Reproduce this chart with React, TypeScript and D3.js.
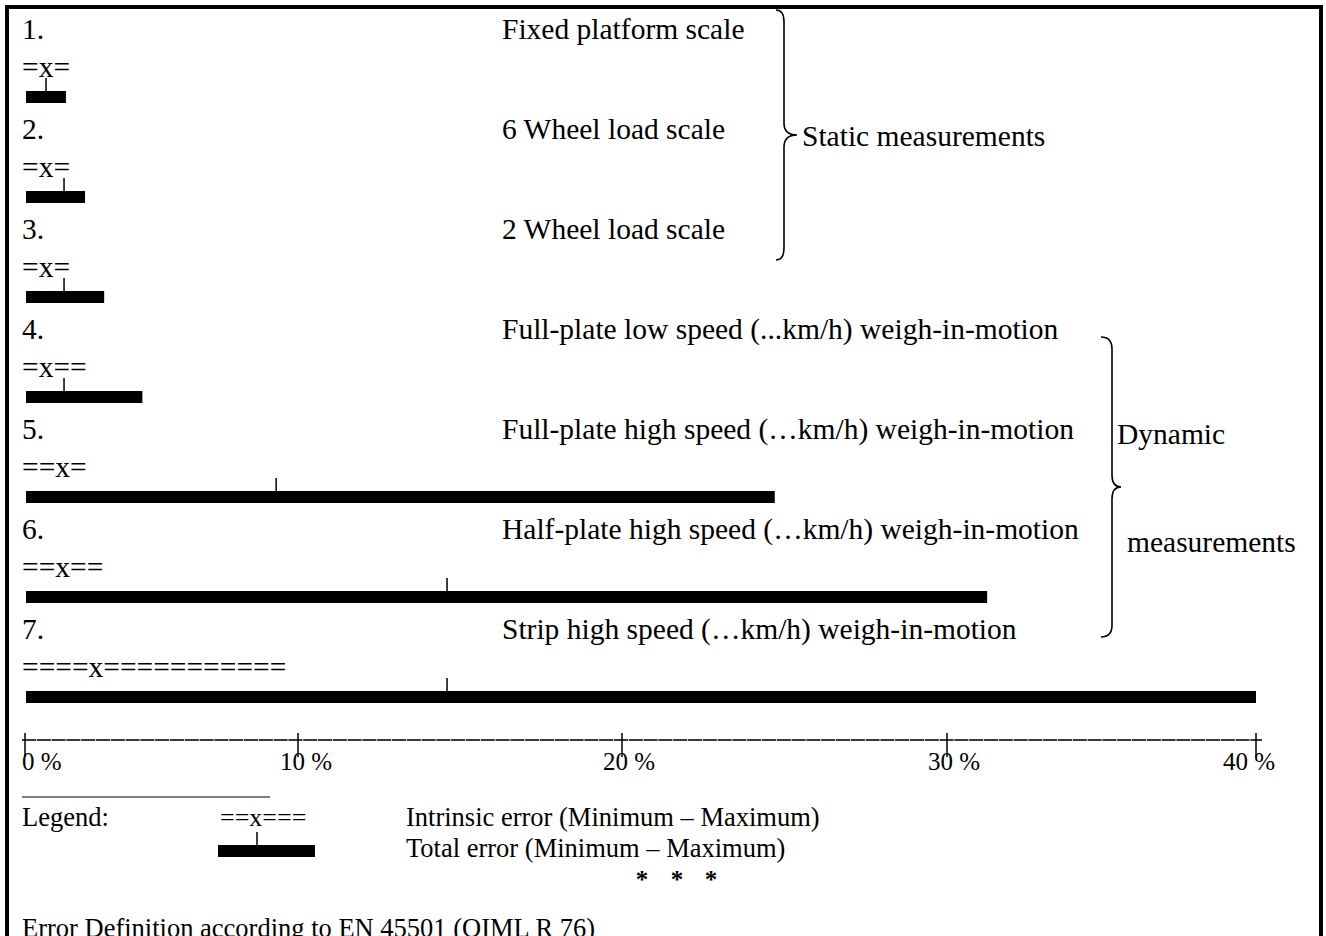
import * as d3 from "d3"

// rows of the comparison, top to bottom
const rowNumbers = ["1.", "2.", "3.", "4.", "5.", "6.", "7."]
const methods = [
  "Fixed platform scale",
  "6 Wheel load scale",
  "2 Wheel load scale",
  "Full-plate low speed (...km/h) weigh-in-motion",
  "Full-plate high speed (…km/h) weigh-in-motion",
  "Half-plate high speed (…km/h) weigh-in-motion",
  "Strip high speed (…km/h) weigh-in-motion",
]
const intrinsicText = ["=x=", "=x=", "=x=", "=x==", "==x=", "==x==", "====x==========="]
// total error (%), bar runs from min to max, tick marks the typical value
const totalMin = [0, 0, 0, 0, 0, 0, 0]
const totalMax = [1.5, 2.2, 2.9, 4.3, 24.7, 31.3, 40]
const typical = [0.77, 1.43, 1.43, 1.43, 9.2, 14.6, 14.6]

const groups = [
  { lines: ["Static measurements"], first: 0, last: 2 },
  { lines: ["Dynamic", "measurements"], first: 3, last: 6 },
]

const tickValues = [0, 10, 20, 30, 40]
const tickLabels = ["0 %", "10 %", "20 %", "30 %", "40 %"]

const legendItems = ["Intrinsic error (Minimum – Maximum)", "Total error (Minimum – Maximum)"]
const footnote = "Error Definition according to EN 45501 (OIML R 76)"

const W = 1326
const H = 936
const font = "'Liberation Serif', 'Times New Roman', serif"

// the printed axis is not evenly spaced, so the scale follows its ticks
const x = d3.scaleLinear().domain(tickValues).range([25, 298, 622, 947, 1256])
const y = d3.scalePoint<number>().domain(d3.range(rowNumbers.length)).range([91, 691])

const barH = 12
const axisY = 740
const labelNudge = [-3, -18, -19, -19, -33]

function bracePath(x0: number, spine: number, tip: number, top: number, bottom: number) {
  const mid = (top + bottom) / 2
  const r = 12
  const p = d3.path()
  p.moveTo(x0, top)
  p.quadraticCurveTo(spine, top, spine, top + r)
  p.lineTo(spine, mid - r)
  p.quadraticCurveTo(spine, mid, tip, mid)
  p.quadraticCurveTo(spine, mid, spine, mid + r)
  p.lineTo(spine, bottom - r)
  p.quadraticCurveTo(spine, bottom, x0, bottom)
  return p.toString()
}

export default function App() {
  const rowLabelY = (i: number) => (y(i) as number) - 52
  const braceLayout = [
    { x0: 776, spine: 784, tip: 797, top: rowLabelY(groups[0].first) - 29, bottom: rowLabelY(groups[0].last) + 21, textX: [802], textDy: [11] },
    { x0: 1101, spine: 1112, tip: 1121, top: rowLabelY(groups[1].first) - 2, bottom: rowLabelY(groups[1].last) - 2, textX: [1117, 1127], textDy: [-43, 65] },
  ]

  return (
    <svg width={W} height={H} style={{ position: "absolute", left: 0, top: 0, background: "#fff" }} fontFamily={font}>
      <rect x={7} y={7} width={1314} height={H + 20} fill="none" stroke="#000" strokeWidth={4} />

      {rowNumbers.map((n, i) => {
        const by = y(i) as number
        return (
          <g key={n}>
            <text x={22} y={rowLabelY(i)} fontSize={29.5}>{n}</text>
            <text x={502} y={rowLabelY(i)} fontSize={29.5}>{methods[i]}</text>
            <text x={22} y={by - 14} fontSize={29.5}>{intrinsicText[i]}</text>
            <rect x={x(totalMin[i]) + 1} y={by} width={x(totalMax[i]) - x(totalMin[i]) - 1} height={barH} fill="#000" />
            <line x1={x(typical[i])} x2={x(typical[i])} y1={by - 13} y2={by} stroke="#000" strokeWidth={1.5} />
          </g>
        )
      })}

      {groups.map((g, gi) => {
        const b = braceLayout[gi]
        const mid = (b.top + b.bottom) / 2
        return (
          <g key={gi}>
            <path d={bracePath(b.x0, b.spine, b.tip, b.top, b.bottom)} fill="none" stroke="#000" strokeWidth={1.6} />
            {g.lines.map((t, li) => (
              <text key={t} x={b.textX[li]} y={mid + b.textDy[li]} fontSize={29.5}>{t}</text>
            ))}
          </g>
        )
      })}

      {/* axis */}
      <line x1={22} x2={1262} y1={axisY} y2={axisY} stroke="#3a3a3a" strokeWidth={2} strokeDasharray="14 0.8" />
      {tickValues.map((v, i) => (
        <g key={v}>
          <line x1={x(v)} x2={x(v)} y1={axisY - 7} y2={axisY + 17} stroke="#000" strokeWidth={1.5} />
          <text x={x(v) + labelNudge[i]} y={axisY + 30} fontSize={25}>{tickLabels[i]}</text>
        </g>
      ))}

      {/* legend */}
      <line x1={22} x2={270} y1={797} y2={797} stroke="#000" strokeWidth={1} />
      <text x={22} y={826} fontSize={26.5}>Legend:</text>
      <text x={220} y={826} fontSize={26}>==x===</text>
      <rect x={218} y={845} width={97} height={barH} fill="#000" />
      <line x1={257} x2={257} y1={832} y2={845} stroke="#000" strokeWidth={1.5} />
      {legendItems.map((t, i) => (
        <text key={t} x={406} y={826 + i * 31} fontSize={26.5}>{t}</text>
      ))}
      {[642, 677, 711].map((cx) => (
        <text key={cx} x={cx} y={888} fontSize={25} fontWeight="bold" textAnchor="middle">*</text>
      ))}
      <text x={22} y={937} fontSize={26.5}>{footnote}</text>
    </svg>
  )
}
